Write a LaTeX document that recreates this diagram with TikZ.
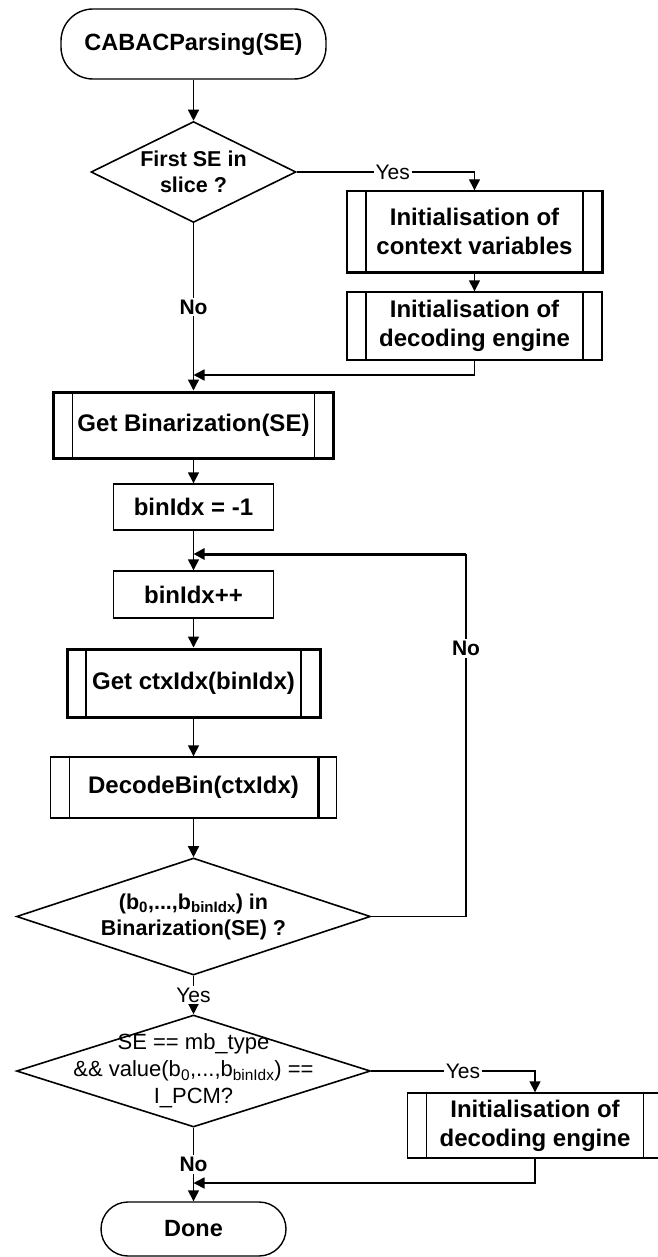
\documentclass[tikz,border=0pt]{standalone}
\usepackage{fontspec}
\setmainfont{Liberation Sans}
\usetikzlibrary{arrows.meta,shapes.geometric}
\begin{document}
\begin{tikzpicture}[x=1pt,y=-1pt,
  line width=1.4pt,
  arr/.style={-{Triangle[length=11pt,width=11pt]}},
  term/.style={draw, rounded corners=32pt, minimum width=265pt, minimum height=70pt, inner sep=0pt, font=\fontsize{23.5}{28}\selectfont\bfseries},
  proc/.style={draw, align=center, inner sep=0pt, font=\fontsize{24}{29}\selectfont\bfseries,
    path picture={
      \draw[line width=1.4pt] ([xshift=19pt]path picture bounding box.north west) -- ([xshift=19pt]path picture bounding box.south west);
      \draw[line width=1.4pt] ([xshift=-19pt]path picture bounding box.north east) -- ([xshift=-19pt]path picture bounding box.south east);}},
  plain/.style={draw, align=center, inner sep=0pt, minimum width=160pt, font=\fontsize{24}{29}\selectfont\bfseries},
  dec/.style={draw, diamond, inner sep=0pt, line width=1.6pt},
  dectext/.style={align=center, inner sep=0pt, font=\fontsize{21.5}{26}\selectfont\bfseries},
  lbl/.style={fill=white, inner sep=2pt, font=\fontsize{21}{24}\selectfont},
  nolbl/.style={lbl, font=\fontsize{21}{24}\selectfont\bfseries},
]
\fill[white] (0,0) rectangle (657,1257);
\useasboundingbox (0,0) rectangle (657,1257);

\node[term] (start) at (193.5,44) {CABACParsing(SE)};
\node[dec, minimum width=205pt, minimum height=101pt] (d1) at (193.5,172) {};
\node[dectext] (d1t) at (d1.center) {First SE in\\slice ?};
\node[proc, minimum width=255pt, minimum height=81pt] (b1) at (474.5,231.5) {Initialisation of\\context variables};
\draw[line width=3pt] (b1.south west) -- (b1.south east) -- (b1.north east);
\node[proc, minimum width=255pt, minimum height=68pt] (b2) at (474.5,326) {Initialisation of\\decoding engine};
\coordinate (m1) at (193.5,375);
\node[proc, line width=3pt, minimum width=280pt, minimum height=66pt] (gb) at (193.5,425) {Get Binarization(SE)};
\node[plain, minimum height=46pt] (bi) at (193.5,507) {binIdx = -1};
\coordinate (m2) at (193.5,554);
\node[plain, minimum height=47pt] (bp) at (193.5,594.5) {binIdx++};
\node[proc, line width=3pt, minimum width=253pt, minimum height=68pt] (gc) at (193.5,683) {Get ctxIdx(binIdx)};
\node[proc, minimum width=286.5pt, minimum height=61pt] (db) at (193.5,787.5) {DecodeBin(ctxIdx)};
\draw[line width=3pt] ([xshift=-19pt]db.north east) -- ([xshift=-19pt]db.south east);
\node[dec, minimum width=354pt, minimum height=117pt] (d2) at (193.5,916.5) {};
\node[dectext] (d2t) at (d2.center) {(b\textsubscript{0},...,b\textsubscript{binIdx}) in\\Binarization(SE) ?};
\coordinate (c2) at (466,554);
\node[dec, minimum width=354pt, minimum height=112pt] (d3) at (193.5,1071) {};
\node[dectext, font=\fontsize{22}{27}\selectfont] (d3t) at (d3.center) {SE == mb\_type\\\&\& value(b\textsubscript{0},...,b\textsubscript{binIdx}) ==\\I\_PCM?};
\node[proc, minimum width=255pt, minimum height=65pt] (b3) at (535,1125.5) {Initialisation of\\decoding engine};
\coordinate (m3) at (193.5,1183);
\node[term, minimum width=185pt, minimum height=54pt, rounded corners=27pt] (done) at (193.5,1229) {Done};

\draw[arr] (start.south) -- (d1.north);
\draw[arr] (d1.east) -| node[lbl,pos=0.27]{Yes} (b1.north);
\draw[arr] (b1.south) -- (b2.north);
\draw[arr, line width=1.6pt] (b2.south) |- (m1);
\draw[arr] (d1.south) -- node[nolbl]{No} (gb.north);
\draw[arr] (gb.south) -- (bi.north);
\draw[arr] (bi.south) -- (bp.north);
\draw[arr] (bp.south) -- (gc.north);
\draw[arr] (gc.south) -- (db.north);
\draw[arr] (db.south) -- (d2.north);
\draw (d2.east) -| node[nolbl,pos=0.87]{No} (c2);
\draw[arr, line width=3pt] (c2) -- (m2);
\draw[arr] (d2.south) -- node[lbl]{Yes} (d3.north);
\draw[arr] (d3.east) -| node[lbl,pos=0.28]{Yes} (b3.north);
\draw[arr] (d3.south) -- node[nolbl]{No} (done.north);
\draw[arr, line width=1.6pt] (b3.south) |- (m3);
\end{tikzpicture}
\end{document}
